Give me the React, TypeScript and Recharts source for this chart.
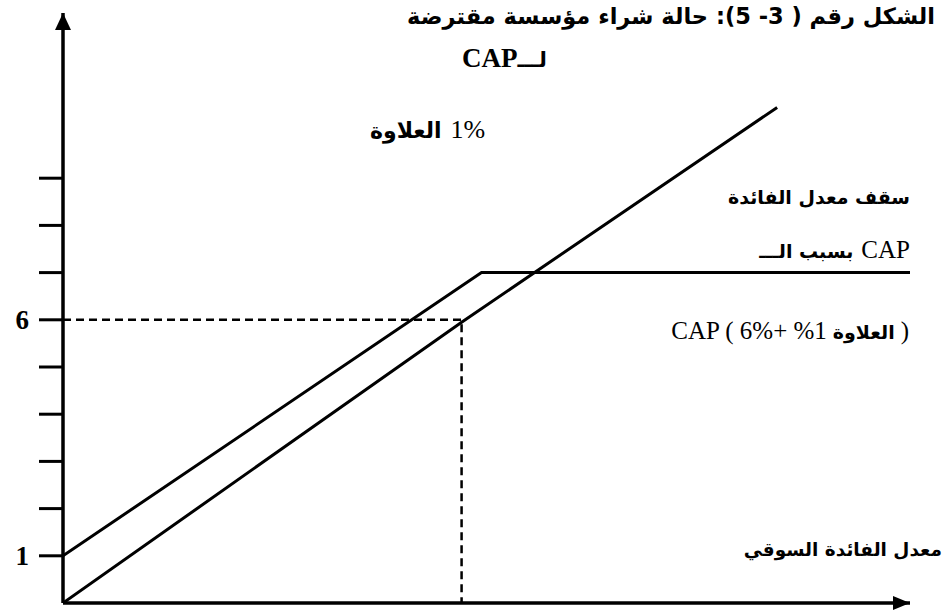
import React from 'react'
import { LineChart, Line, XAxis, YAxis, ReferenceLine, ReferenceDot } from 'recharts'

// y axis ticks (only 1 and 6 are labelled in the figure)
const yTicks = [1, 2, 3, 4, 5, 6, 7, 8, 9]
const yTickLabels: Record<number, string> = { 1: '1', 6: '6' }

// market rate line (rate = market rate)
const marketLine = [
  { x: 0, y: 0 },
  { x: 6, y: 5.95 },
  { x: 10.75, y: 10.5 },
]
// borrower's rate: market + 1% premium, capped at 7 (6% + 1%)
const cappedLine = [
  { x: 0, y: 1 },
  { x: 6.3, y: 7 },
  { x: 12.75, y: 7 },
]
// dashed guide at the 6% cap
const guideLine = [
  { x: 0, y: 6 },
  { x: 6, y: 6 },
  { x: 6, y: 0 },
]

const xMax = 12.75
const yMax = 12.5

const arabic = '"DejaVu Sans", sans-serif'
const serif = '"Liberation Serif", "Times New Roman", serif'

const UpArrow = (p: any) => (
  <path d={`M${p.cx},${p.cy} L${p.cx - 8},${p.cy + 17} L${p.cx + 8},${p.cy + 17} Z`} fill="#000" />
)
const RightArrow = (p: any) => (
  <path d={`M${p.cx},${p.cy} L${p.cx - 17},${p.cy - 7} L${p.cx - 17},${p.cy + 7} Z`} fill="#000" />
)

const Txt = ({ style, children }: { style: React.CSSProperties; children: React.ReactNode }) => (
  <div
    style={{
      position: 'absolute',
      display: 'flex',
      direction: 'ltr',
      whiteSpace: 'pre',
      alignItems: 'baseline',
      color: '#000',
      fontWeight: 'bold',
      lineHeight: 1,
      ...style,
    }}
  >
    {children}
  </div>
)

const Ar = ({ children, size, gap = 0 }: { children: React.ReactNode; size: number; gap?: number }) => (
  <span dir="rtl" style={{ fontFamily: arabic, fontSize: size, marginRight: gap }}>{children}</span>
)
const La = ({ children, size, bold = true, gap = 0 }: { children: React.ReactNode; size: number; bold?: boolean; gap?: number }) => (
  <span style={{ fontFamily: serif, fontSize: size, fontWeight: bold ? 'bold' : 'normal', marginRight: gap }}>{children}</span>
)

export default function App() {
  return (
    <div style={{ position: 'absolute', left: 0, top: 0, width: 949, height: 613, background: '#fff' }}>
      <LineChart width={949} height={613} margin={{ top: 13, right: 39, left: 0, bottom: 10 }}>
        <XAxis type="number" dataKey="x" domain={[0, xMax]} allowDataOverflow hide />
        <YAxis
          type="number"
          domain={[0, yMax]}
          allowDataOverflow
          ticks={yTicks}
          interval={0}
          width={63}
          axisLine={{ stroke: '#000', strokeWidth: 3.5 }}
          tickLine={{ stroke: '#000', strokeWidth: 3 }}
          tickSize={24}
          tickMargin={10}
          tickFormatter={(v: number) => yTickLabels[v] ?? ''}
          tick={{ fill: '#000', fontSize: 27, fontWeight: 'bold', fontFamily: serif }}
        />
        <ReferenceLine y={0} stroke="#000" strokeWidth={3.5} />
        <Line data={guideLine} dataKey="y" type="linear" stroke="#000" strokeWidth={2.5} strokeDasharray="8 5" dot={false} isAnimationActive={false} />
        <Line data={marketLine} dataKey="y" type="linear" stroke="#000" strokeWidth={3} dot={false} isAnimationActive={false} />
        <Line data={cappedLine} dataKey="y" type="linear" stroke="#000" strokeWidth={3} dot={false} isAnimationActive={false} />
        <ReferenceDot x={0} y={yMax} r={0} shape={UpArrow} />
        <ReferenceDot x={xMax} y={0} r={0} shape={RightArrow} />
      </LineChart>

      <Txt style={{ right: 14, top: 5 }}>
        <Ar size={22.5}>الشكل رقم ( 3- 5): حالة شراء مؤسسة مقترضة</Ar>
      </Txt>
      <Txt style={{ left: 462, top: 45 }}>
        <La size={27}>CAP</La>
        <Ar size={21}>لـــ</Ar>
      </Txt>
      <Txt style={{ left: 370, top: 117 }}>
        <Ar size={22} gap={9}>العلاوة</Ar>
        <La size={26} bold={false}>1%</La>
      </Txt>
      <Txt style={{ right: 39, top: 188 }}>
        <Ar size={19}>سقف معدل الفائدة</Ar>
      </Txt>
      <Txt style={{ right: 39, top: 237 }}>
        <Ar size={19} gap={8}>بسبب الـــ</Ar>
        <La size={25} bold={false}>CAP</La>
      </Txt>
      <Txt style={{ right: 40, top: 318 }}>
        <La size={25} bold={false} gap={6}>CAP ( 6%+ %1</La>
        <Ar size={19} gap={6}>العلاوة</Ar>
        <La size={25} bold={false}>)</La>
      </Txt>
      <Txt style={{ right: 7, top: 541 }}>
        <Ar size={18.5}>معدل الفائدة السوقي</Ar>
      </Txt>
    </div>
  )
}
